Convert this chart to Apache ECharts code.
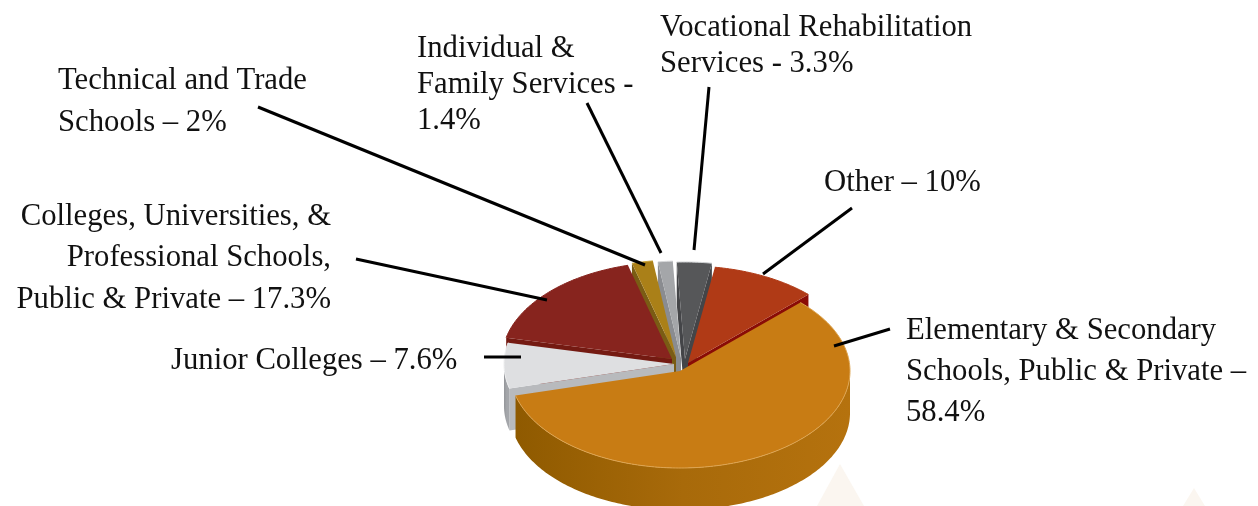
<!DOCTYPE html>
<html>
<head>
<meta charset="utf-8">
<script src="https://cdn.jsdelivr.net/npm/echarts@6/dist/echarts.min.js"></script>
<style>
html, body { margin: 0; padding: 0; background: #fff; }
#main { width: 1258px; height: 506px; }
</style>
</head>
<body>
<div id="main"></div>
<script type="text/javascript">
// data, clockwise from the start angle
var sliceNames = ['Elementary', 'Junior', 'Colleges', 'Technical', 'Individual', 'Vocational', 'Other'];
var sliceValues = [58.4, 7.6, 17.3, 2, 1.4, 3.3, 10];
var sliceLabels = [
    'Elementary & Secondary\nSchools, Public & Private \u2013\n58.4%',
    'Junior Colleges \u2013 7.6%',
    'Colleges, Universities, &\nProfessional Schools,\nPublic & Private \u2013 17.3%',
    'Technical and Trade\nSchools \u2013 2%',
    'Individual &\nFamily Services -\n1.4%',
    'Vocational Rehabilitation\nServices - 3.3%',
    'Other \u2013 10%'
];

// pie shape
var cx = 680, cy = 371, rx = 170, ry = 97, depth = 42, startAngle = 44.9;
// how far each slice is pulled out of the pie
var sliceShift = [[0, 0], [-6, -7], [-8, -12], [-4, -14], [1, -13], [5, -12], [8, -8]];
var topColors = ['#c87c14', '#dedfe1', '#87241e', '#aa8018', '#a4a6a9', '#565759', '#b03a16'];
var faceColors = ['#8f5a00', '#b8babd', '#741a12', '#7a5c14', '#8a8c90', '#444548', '#8a0c06'];
var rimColors = ['#dea552', '#eeeff0', '#87241e', '#c9a43e', '#d8d9db', '#d0d2d4', '#b03a16'];
var wallColors = [['#8f5a00', '#a86a0a', '#b5720e'], ['#94969a', '#a4a6aa', '#a4a6aa']];

// label placement
var labelPos = [
    [906, 310, 'left', 41], [171, 343, 'left', 36], [331, 196, 'right', 41.5], [58, 60, 'left', 42],
    [417, 31, 'left', 36], [660, 10, 'left', 36], [824, 165, 'left', 36]
];
var leaders = [
    [890, 329, 834, 346], [484, 357, 521, 357], [356, 259, 547, 300], [258, 107, 645, 265],
    [587, 103, 661, 253], [709, 87, 694, 250], [852, 208, 763, 274]
];

var sliceAngles = [];
var running = startAngle;
for (var n = 0; n < sliceValues.length; n++) {
    var sweep = sliceValues[n] / 100 * 360;
    sliceAngles.push([running, running - sweep]);
    running -= sweep;
}

function rimPoint(i, deg, down) {
    var rad = deg * Math.PI / 180;
    return [
        cx + sliceShift[i][0] + rx * Math.cos(rad),
        cy + sliceShift[i][1] - ry * Math.sin(rad) + (down || 0)
    ];
}

function arcPoints(i, from, to, down) {
    var pts = [];
    var steps = Math.max(2, Math.ceil(Math.abs(from - to)));
    for (var k = 0; k <= steps; k++) {
        pts.push(rimPoint(i, from + (to - from) * k / steps, down));
    }
    return pts;
}

function renderSlice(params, api) {
    var i = api.value(0);
    var from = sliceAngles[i][0], to = sliceAngles[i][1];
    var ax = cx + sliceShift[i][0], ay = cy + sliceShift[i][1];
    var kids = [];

    // cut faces go first, only the ones turned towards the viewer
    [[from, -1], [to, 1]].forEach(function (cut) {
        if (Math.cos(cut[0] * Math.PI / 180) * cut[1] <= 0) return;
        var p = rimPoint(i, cut[0]), q = rimPoint(i, cut[0], depth);
        kids.push({
            type: 'polygon',
            shape: { points: [[ax, ay], p, q, [ax, ay + depth]] },
            style: { fill: faceColors[i] }
        });
    });

    // outer wall, only where it faces the viewer (-180..0)
    var wallFrom = Math.min(from, 0), wallTo = Math.max(to, -180);
    if (wallFrom > wallTo) {
        var upper = arcPoints(i, wallFrom, wallTo, 0);
        var lower = arcPoints(i, wallFrom, wallTo, depth).reverse();
        var stops = wallColors[i === 0 ? 0 : 1];
        kids.push({
            type: 'polygon',
            shape: { points: upper.concat(lower) },
            style: {
                fill: new echarts.graphic.LinearGradient(0, 0, 1, 0, [
                    { offset: 0, color: stops[0] },
                    { offset: 0.5, color: stops[1] },
                    { offset: 1, color: stops[2] }
                ])
            }
        });
    }

    var rim = arcPoints(i, from, to, 0);
    kids.push({
        type: 'polygon',
        shape: { points: [[ax, ay]].concat(rim) },
        style: { fill: topColors[i] }
    });
    kids.push({
        type: 'polyline',
        shape: { points: rim },
        style: { fill: null, stroke: rimColors[i], lineWidth: 1 }
    });
    return { type: 'group', children: kids };
}

// paint from the back of the pie to the front
var paintOrder = [5, 6, 4, 3, 2, 1, 0].map(function (i) {
    return { name: sliceNames[i], value: [i, sliceValues[i]] };
});

var graphics = [
    // pale triangles of the page background
    { type: 'polygon', z: -1, shape: { points: [[840, 464], [817, 506], [864, 506]] }, style: { fill: '#fbf6f0' } },
    { type: 'polygon', z: -1, shape: { points: [[1194, 488], [1183, 506], [1205, 506]] }, style: { fill: '#fbf6f0' } }
];
sliceLabels.forEach(function (text, i) {
    graphics.push({
        type: 'text',
        z: 10,
        x: labelPos[i][0],
        y: labelPos[i][1],
        style: {
            text: text,
            fill: '#111',
            font: '30.7px "Liberation Serif"',
            textAlign: labelPos[i][2],
            lineHeight: labelPos[i][3]
        }
    });
    graphics.push({
        type: 'line',
        z: 10,
        shape: { x1: leaders[i][0], y1: leaders[i][1], x2: leaders[i][2], y2: leaders[i][3] },
        style: { stroke: '#000', lineWidth: 3 }
    });
});

var myChart = echarts.init(document.getElementById('main'));
myChart.setOption({
    backgroundColor: '#fff',
    animation: false,
    graphic: graphics,
    series: [{
        type: 'custom',
        coordinateSystem: 'none',
        renderItem: renderSlice,
        data: paintOrder
    }]
});
</script>
</body>
</html>
